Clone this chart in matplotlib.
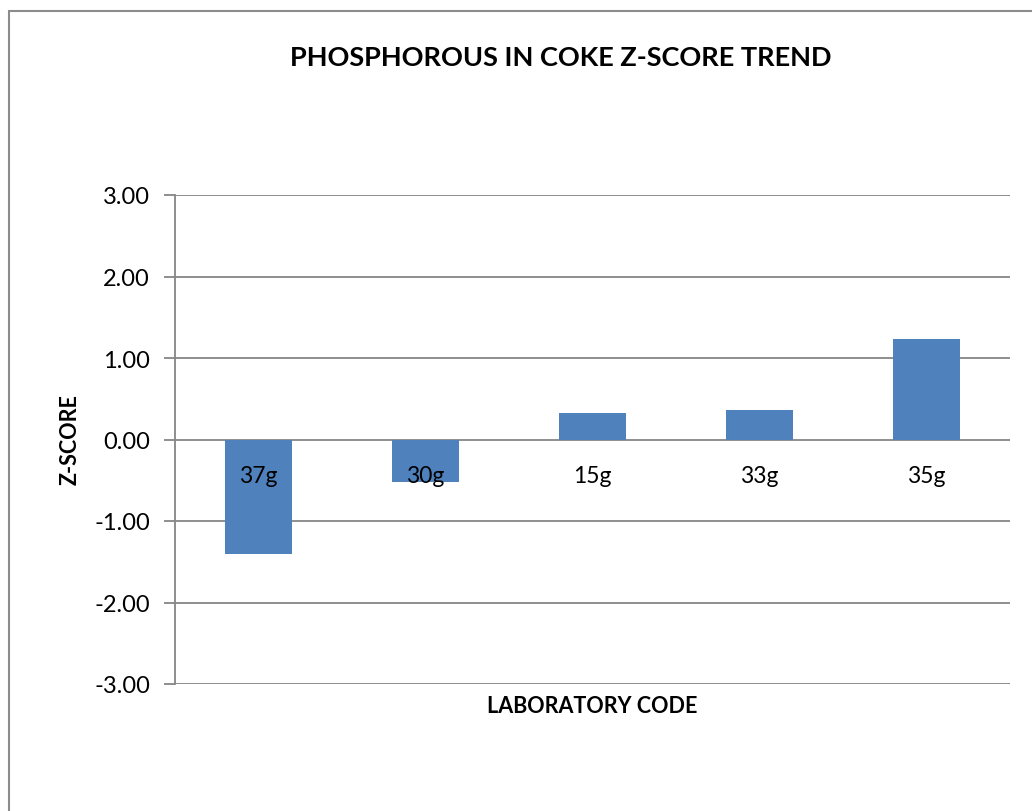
import matplotlib
matplotlib.use('Agg')
import matplotlib.pyplot as plt
from matplotlib.patches import Rectangle

plt.rcParams['font.family'] = ['Lato', 'DejaVu Sans']

# data
lab_codes = ['37g', '30g', '15g', '33g', '35g']
z_scores = [-1.40, -0.52, 0.33, 0.36, 1.23]
y_ticks = [-3.0, -2.0, -1.0, 0.0, 1.0, 2.0, 3.0]

BAR_COLOR = '#4F81BD'
GRID_COLOR = '#868686'

fig = plt.figure(figsize=(10.32, 8.12), dpi=100)
fig.patch.set_facecolor('white')

# chart border (extends past right/bottom edge of the picture)
fig.patches.append(Rectangle((8.5 / 1032, -0.1), 1.2, 1 - 11.5 / 812 + 0.1,
                             transform=fig.transFigure, fill=False,
                             edgecolor='#8C8C8C', linewidth=1.5))

ax = fig.add_axes([175 / 1032, 1 - 685 / 812, (1010 - 175) / 1032, (685 - 196) / 812])
x = list(range(len(lab_codes)))
ax.bar(x, z_scores, width=0.4, color=BAR_COLOR, zorder=3)

ax.set_xlim(-0.5, len(lab_codes) - 0.5)
ax.set_ylim(-3, 3)
ax.set_yticks(y_ticks)
ax.set_yticklabels([f'{v:.2f}' for v in y_ticks], fontsize=17)
ax.yaxis.grid(True, color=GRID_COLOR, linewidth=1.3, zorder=0)
ax.tick_params(axis='y', length=8, width=1.3, color=GRID_COLOR, pad=10)
ax.set_xticks([])

# category labels sit just below the zero line, drawn over the bars
for xi, code in zip(x, lab_codes):
    ax.annotate(code, xy=(xi, 0), xytext=(0, -26), textcoords='offset points',
                ha='center', va='center', fontsize=16.5, zorder=5)

for s in ['top', 'right', 'bottom']:
    ax.spines[s].set_visible(False)
ax.spines['left'].set_color(GRID_COLOR)
ax.spines['left'].set_linewidth(1.3)

fig.text(561 / 1032, 1 - 58 / 812, 'PHOSPHOROUS IN COKE Z-SCORE TREND',
         ha='center', va='center', fontsize=19.5, fontweight='bold')
fig.text(592 / 1032, 1 - 707 / 812, 'LABORATORY CODE',
         ha='center', va='center', fontsize=15.5, fontweight='bold')
fig.text(70 / 1032, 1 - 440 / 812, 'Z-SCORE', rotation=90,
         ha='center', va='center', fontsize=15.5, fontweight='bold')

fig.savefig('out.png', dpi=100, facecolor='white')
